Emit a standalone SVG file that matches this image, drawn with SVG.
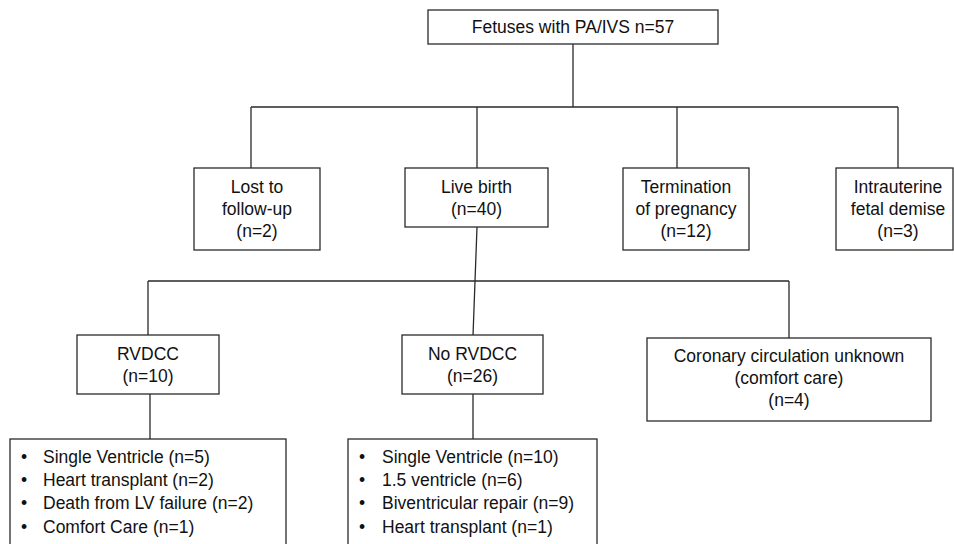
<svg xmlns="http://www.w3.org/2000/svg" width="954" height="544" viewBox="0 0 954 544">
<style>
.box{fill:#fff;stroke:#2a2a2a;stroke-width:1.3}
.ln{fill:none;stroke:#2a2a2a;stroke-width:1.3}
text{font-family:"Liberation Sans",Arial,sans-serif;font-size:17.5px;fill:#111}
.c{text-anchor:middle}
</style>
<rect width="954" height="544" fill="#fff"/>
<g id="connectors">
<path class="ln" d="M573,44 V107 M251,107 H898 M251,107 V168 M477,107 V168 M677,107 V168 M898,107 V168"/>
<path class="ln" d="M477,227 L473,336 M148,281 H789 M148,281 V335 M789,281 V338"/>
<path class="ln" d="M150,394 V439 M473,394 V439"/>
</g>
<g id="n-root"><rect class="box" x="428" y="10" width="290" height="34"/><text class="c" x="573" y="33">Fetuses with PA/IVS n=57</text></g>
<g id="n-lost"><rect class="box" x="194" y="168" width="126" height="82"/><text class="c" x="257" y="193">Lost to</text><text class="c" x="257" y="215">follow-up</text><text class="c" x="257" y="237">(n=2)</text></g>
<g id="n-live"><rect class="box" x="405" y="168" width="143" height="59"/><text class="c" x="476.500" y="193">Live birth</text><text class="c" x="476.500" y="215">(n=40)</text></g>
<g id="n-term"><rect class="box" x="623" y="168" width="126" height="82"/><text class="c" x="686" y="193">Termination</text><text class="c" x="686" y="215">of pregnancy</text><text class="c" x="686" y="237">(n=12)</text></g>
<g id="n-iufd"><rect class="box" x="836" y="168" width="117" height="82"/><text class="c" x="898" y="193">Intrauterine</text><text class="c" x="898" y="215">fetal demise</text><text class="c" x="898" y="237">(n=3)</text></g>
<g id="n-rvdcc"><rect class="box" x="77" y="335" width="142" height="59"/><text class="c" x="148" y="360">RVDCC</text><text class="c" x="148" y="382">(n=10)</text></g>
<g id="n-norvdcc"><rect class="box" x="402" y="335" width="141" height="59"/><text class="c" x="472.500" y="360">No RVDCC</text><text class="c" x="472.500" y="382">(n=26)</text></g>
<g id="n-coronary"><rect class="box" x="647" y="338" width="284" height="83"/><text class="c" x="789" y="362">Coronary circulation unknown</text><text class="c" x="789" y="384">(comfort care)</text><text class="c" x="789" y="406">(n=4)</text></g>
<g id="n-rv-out"><rect class="box" x="10" y="439" width="276" height="120"/>
<text x="21" y="463">•</text><text x="43" y="463">Single Ventricle (n=5)</text>
<text x="21" y="486">•</text><text x="43" y="486">Heart transplant (n=2)</text>
<text x="21" y="509">•</text><text x="43" y="509">Death from LV failure (n=2)</text>
<text x="21" y="533">•</text><text x="43" y="533">Comfort Care (n=1)</text></g>
<g id="n-norv-out"><rect class="box" x="348" y="439" width="249" height="120"/>
<text x="359" y="463">•</text><text x="382" y="463">Single Ventricle (n=10)</text>
<text x="359" y="486">•</text><text x="382" y="486">1.5 ventricle (n=6)</text>
<text x="359" y="509">•</text><text x="382" y="509">Biventricular repair (n=9)</text>
<text x="359" y="533">•</text><text x="382" y="533">Heart transplant (n=1)</text></g>
</svg>
